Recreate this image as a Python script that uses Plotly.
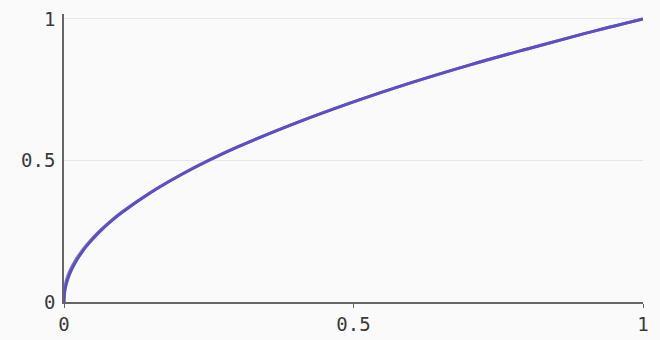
import plotly.graph_objects as go

x_vals = [0, 0.0005, 0.002, 0.005, 0.01, 0.02, 0.03, 0.04, 0.06, 0.08, 0.1, 0.15, 0.2, 0.25, 0.3, 0.4, 0.5, 0.6, 0.7, 0.8, 0.9, 1.0]
y_main = [0, 0.022, 0.045, 0.071, 0.1, 0.141, 0.173, 0.2, 0.245, 0.283, 0.316, 0.387, 0.447, 0.5, 0.548, 0.632, 0.707, 0.775, 0.837, 0.894, 0.949, 1.0]
y_shadow = [0, 0.032, 0.058, 0.084, 0.11, 0.148, 0.178, 0.204, 0.248, 0.285, 0.318, 0.388, 0.448, 0.501, 0.548, 0.632, 0.707, 0.775, 0.837, 0.894, 0.949, 1.0]

x_ticks = [0, 0.5, 1]
x_tick_text = ["0", "0.5", "1"]
y_ticks = [0, 0.5, 1]
y_tick_text = ["0", "0.5", "1"]

fig = go.Figure()
fig.add_trace(go.Scatter(x=x_vals, y=y_shadow, mode="lines", line=dict(color="#8a8a96", width=3, shape="spline"), hoverinfo="skip"))
fig.add_trace(go.Scatter(x=x_vals, y=y_main, mode="lines", line=dict(color="#5b4dcf", width=3, shape="spline")))

font_family = "DejaVu Sans Mono, monospace"
fig.update_layout(
    width=660, height=340,
    margin=dict(l=64, r=17, t=14, b=38),
    paper_bgcolor="#fafafa", plot_bgcolor="#fafafa",
    showlegend=False,
    font=dict(family=font_family, size=19, color="#3a3a3a"),
    xaxis=dict(range=[0, 1], tickvals=x_ticks, ticktext=x_tick_text, showgrid=False, zeroline=False, automargin=False,
               showline=True, linecolor="#666", linewidth=1.5, ticks="outside", ticklen=4, tickcolor="#666"),
    yaxis=dict(range=[0, 1.0175], tickvals=y_ticks, ticktext=y_tick_text, showgrid=True, gridcolor="#e6e6ee", automargin=False,
               zeroline=False, showline=True, linecolor="#666", linewidth=1.5, ticks="", ticklabelstandoff=3),
)
fig.write_html("out.html")
